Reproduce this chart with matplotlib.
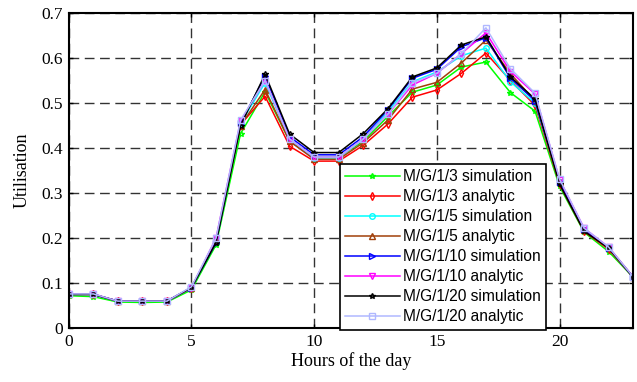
import matplotlib
matplotlib.use("Agg")
import matplotlib.pyplot as plt

hours = list(range(24))

labels = ["M/G/1/3 simulation", "M/G/1/3 analytic", "M/G/1/5 simulation", "M/G/1/5 analytic",
          "M/G/1/10 simulation", "M/G/1/10 analytic", "M/G/1/20 simulation", "M/G/1/20 analytic"]

g3_sim = [0.072, 0.070, 0.058, 0.057, 0.058, 0.085, 0.185, 0.432, 0.525, 0.415, 0.380, 0.380,
          0.415, 0.470, 0.524, 0.540, 0.580, 0.591, 0.523, 0.482, 0.315, 0.213, 0.170, 0.113]
g3_ana = [0.075, 0.075, 0.060, 0.060, 0.060, 0.090, 0.195, 0.452, 0.515, 0.404, 0.371, 0.371,
          0.406, 0.453, 0.513, 0.529, 0.566, 0.611, 0.550, 0.495, 0.320, 0.215, 0.175, 0.113]
g5_sim = [0.075, 0.075, 0.060, 0.060, 0.060, 0.090, 0.195, 0.455, 0.545, 0.420, 0.378, 0.378,
          0.420, 0.480, 0.547, 0.569, 0.605, 0.622, 0.547, 0.500, 0.325, 0.218, 0.178, 0.113]
g5_ana = [0.075, 0.075, 0.060, 0.060, 0.060, 0.090, 0.195, 0.450, 0.530, 0.415, 0.375, 0.375,
          0.412, 0.462, 0.531, 0.546, 0.589, 0.640, 0.565, 0.505, 0.325, 0.218, 0.178, 0.113]
g10_sim = [0.075, 0.075, 0.060, 0.060, 0.060, 0.090, 0.190, 0.455, 0.560, 0.425, 0.385, 0.385,
           0.425, 0.485, 0.555, 0.575, 0.625, 0.645, 0.555, 0.505, 0.325, 0.220, 0.178, 0.113]
g10_ana = [0.076, 0.076, 0.060, 0.060, 0.060, 0.090, 0.200, 0.460, 0.550, 0.420, 0.380, 0.380,
           0.420, 0.475, 0.540, 0.566, 0.610, 0.656, 0.570, 0.520, 0.330, 0.222, 0.180, 0.114]
g20_sim = [0.075, 0.075, 0.060, 0.060, 0.060, 0.090, 0.190, 0.450, 0.564, 0.431, 0.390, 0.390,
           0.432, 0.487, 0.558, 0.578, 0.629, 0.647, 0.558, 0.509, 0.320, 0.215, 0.178, 0.113]
g20_ana = [0.076, 0.076, 0.060, 0.060, 0.060, 0.092, 0.200, 0.462, 0.550, 0.420, 0.380, 0.380,
           0.420, 0.475, 0.545, 0.566, 0.610, 0.667, 0.576, 0.522, 0.331, 0.222, 0.180, 0.114]

series = [g3_sim, g3_ana, g5_sim, g5_ana, g10_sim, g10_ana, g20_sim, g20_ana]
colors = ["#00ff00", "#ff0000", "#00ffff", "#a0400a", "#0000ff", "#ff00ff", "#000000", "#b0b8ff"]
markers = ["*", "d", "o", "^", ">", "v", "*", "s"]

xticks = [0, 5, 10, 15, 20]
yticks = [0, 0.1, 0.2, 0.3, 0.4, 0.5, 0.6, 0.7]

fig = plt.figure(figsize=(6.37, 3.82), dpi=100)
ax = fig.add_axes([0.108, 0.141, 0.886, 0.825])

for ys, c, m, lab in zip(series, colors, markers, labels):
    ax.plot(hours, ys, color=c, marker=m, markersize=4, markerfacecolor="none",
            markeredgecolor=c, markeredgewidth=1.0, linewidth=1.1, label=lab)

ax.set_xlim(0, 23)
ax.set_ylim(0, 0.7)
ax.set_xticks(xticks)
ax.set_yticks(yticks)
ax.set_yticklabels(["0", "0.1", "0.2", "0.3", "0.4", "0.5", "0.6", "0.7"])
ax.grid(True, color="#333333", linestyle=(0, (7, 4)), linewidth=1.0)
ax.tick_params(direction="in", length=3, width=1, top=True, right=True,
               labelsize=12.5, pad=4)
for lbl in ax.get_xticklabels() + ax.get_yticklabels():
    lbl.set_fontfamily("Liberation Serif")
for s in ax.spines.values():
    s.set_linewidth(1.5)

ax.set_xlabel("Hours of the day", fontfamily="Liberation Serif", fontsize=13, labelpad=2)
ax.set_ylabel("Utilisation", fontfamily="Liberation Serif", fontsize=13, labelpad=8)

leg = ax.legend(loc="lower left", bbox_to_anchor=(0.48, -0.005), frameon=True, fancybox=False,
                edgecolor="black", framealpha=1, handlelength=3.5, handletextpad=0.2,
                labelspacing=0.32, borderpad=0.35, borderaxespad=0,
                prop={"family": "Liberation Sans", "size": 11.2})
leg.get_frame().set_linewidth(1.2)

fig.savefig("out.png", dpi=100)
